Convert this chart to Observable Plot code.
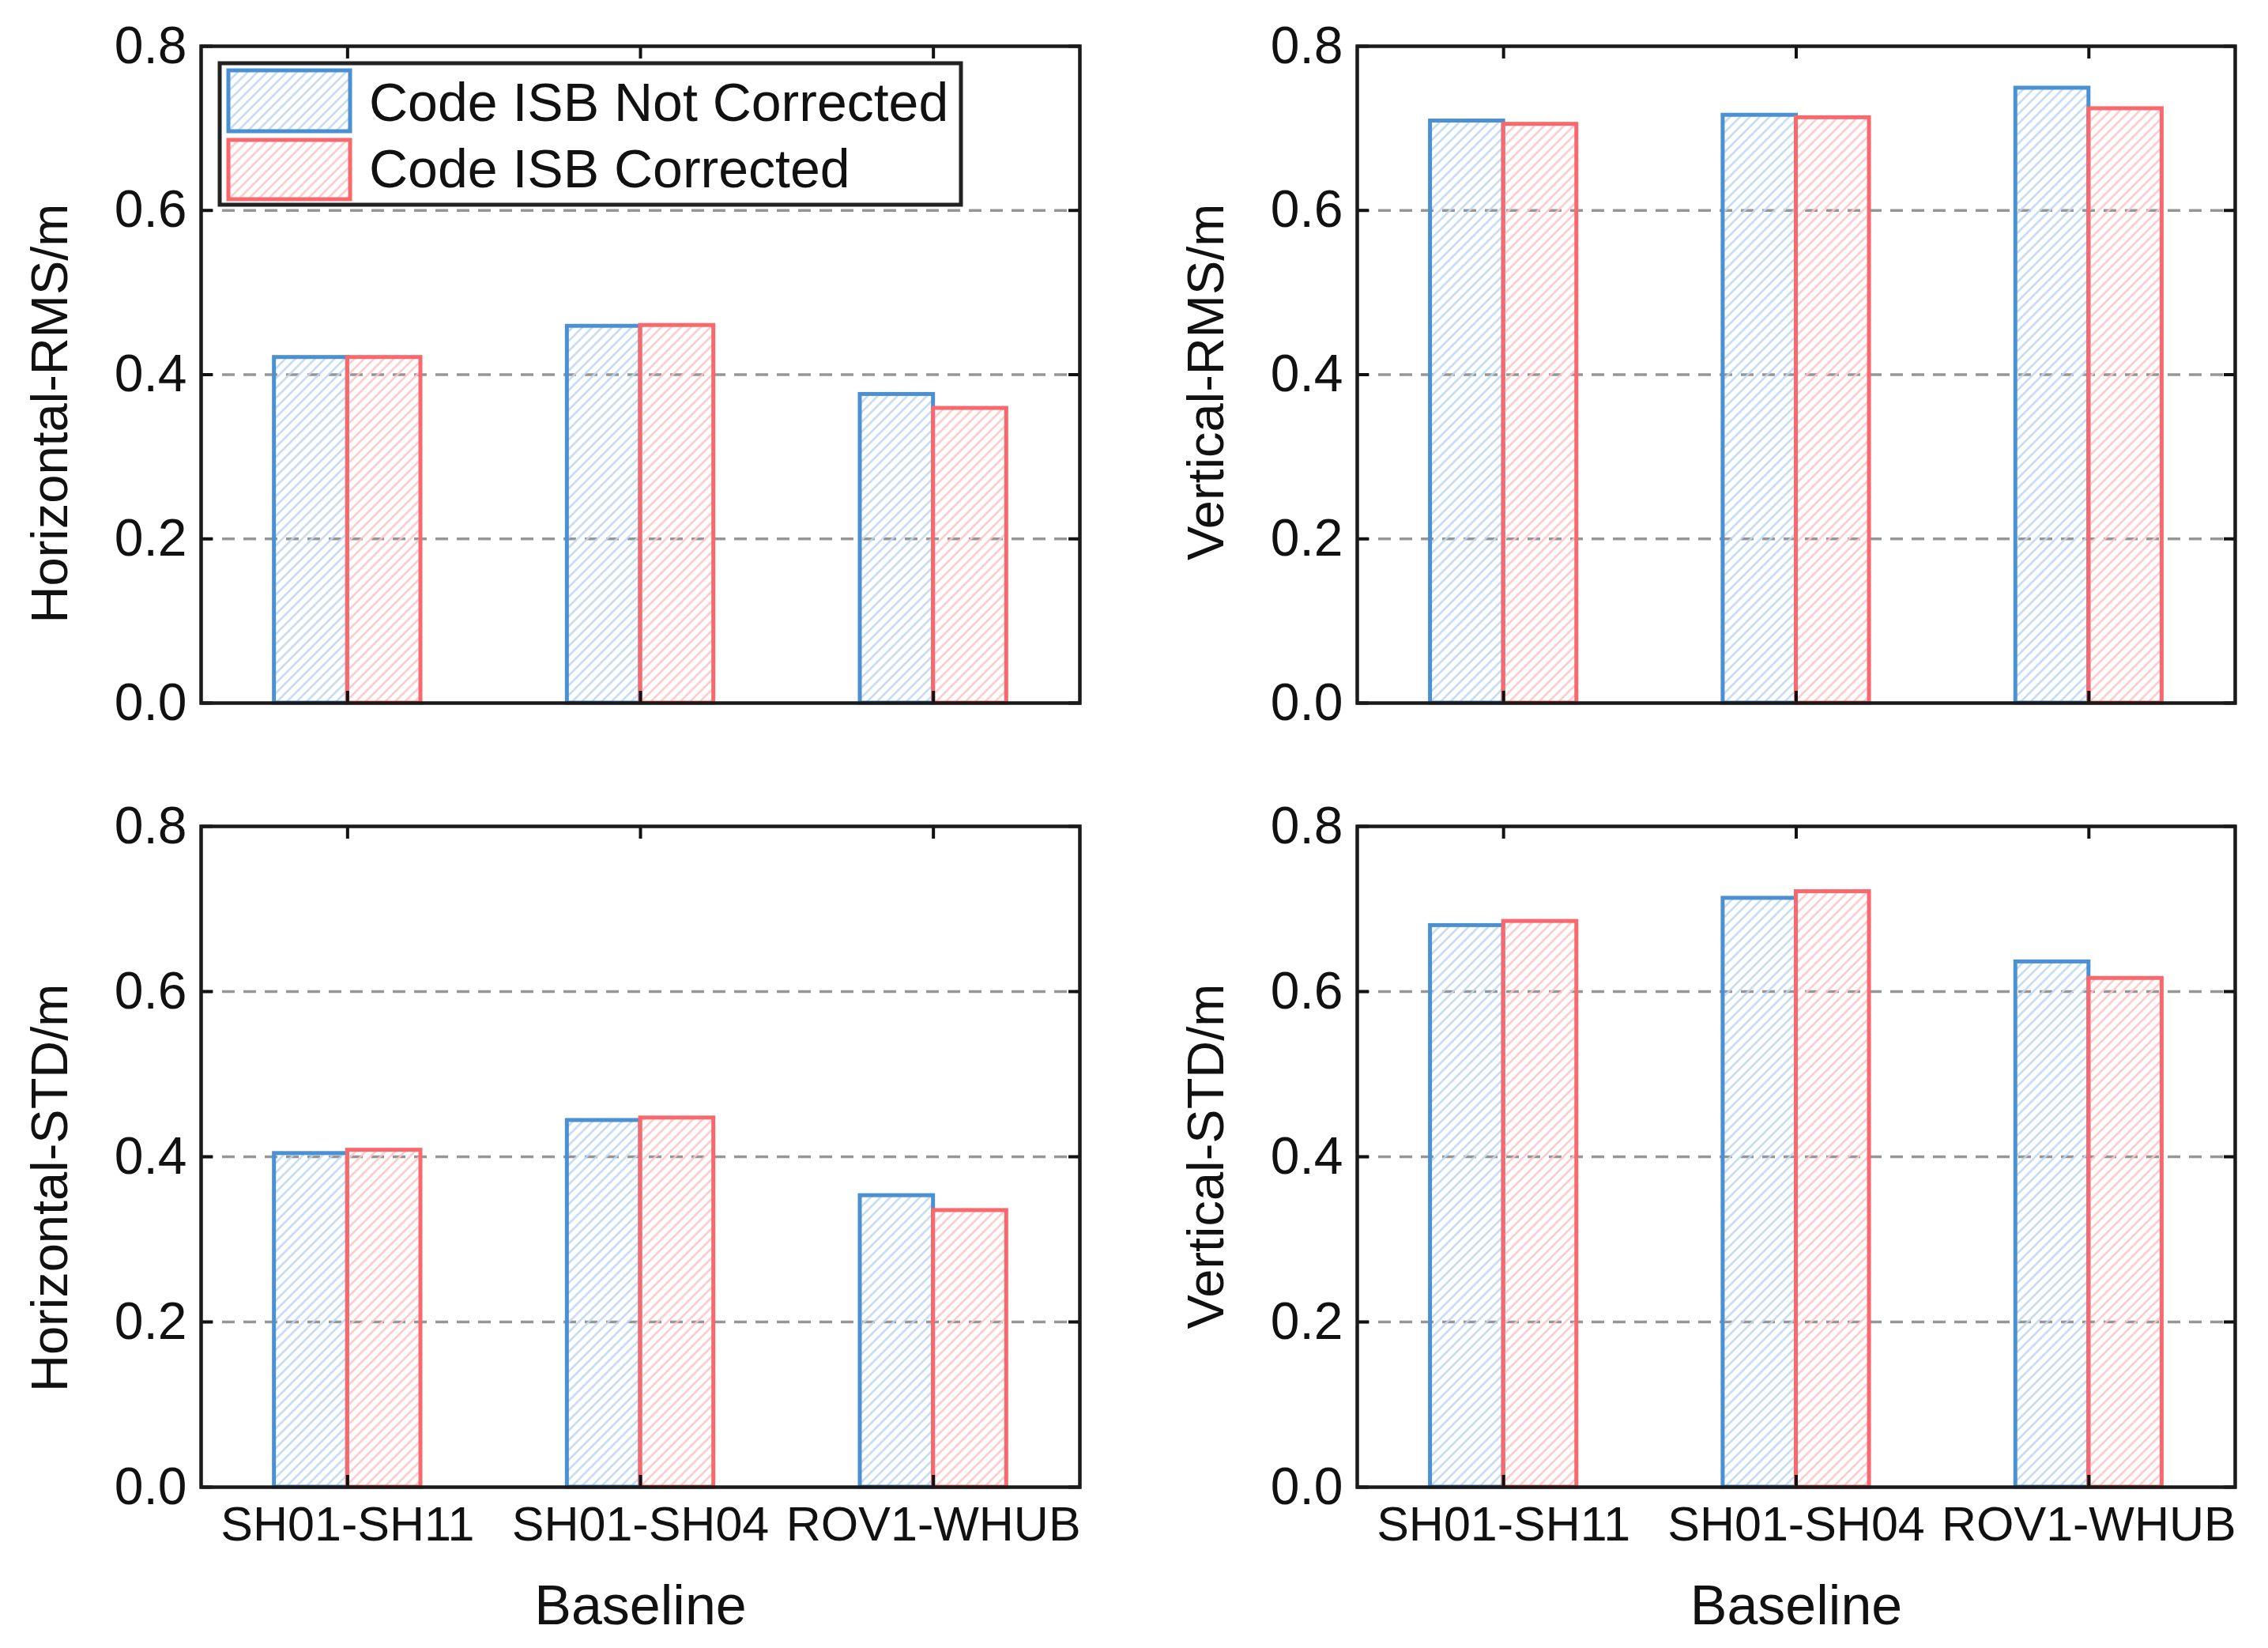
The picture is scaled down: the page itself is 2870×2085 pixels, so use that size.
<!DOCTYPE html>
<html>
<head>
<meta charset="utf-8">
<script src="https://cdn.jsdelivr.net/npm/d3@7"></script>
<script src="https://cdn.jsdelivr.net/npm/@observablehq/plot@0.6"></script>
<style>
html, body { margin: 0; padding: 0; background: #fff; }
#page { position: relative; width: 2870px; height: 2085px; overflow: hidden; font-family: "Liberation Sans", Arial, sans-serif; background: #fff; }
.panel { position: absolute; }
.panel svg { overflow: visible; }
#legend { position: absolute; left: 0; top: 0; }
</style>
</head>
<body>
<svg width="0" height="0" style="position:absolute">
  <defs>
    <pattern id="hatchBlue" patternUnits="userSpaceOnUse" width="8.8" height="8.8" patternTransform="rotate(45)">
      <line x1="4.4" y1="-1" x2="4.4" y2="9.8" stroke="#bcd7ef" stroke-width="2.3"/>
    </pattern>
    <pattern id="hatchRed" patternUnits="userSpaceOnUse" width="8.8" height="8.8" patternTransform="rotate(45)">
      <line x1="4.4" y1="-1" x2="4.4" y2="9.8" stroke="#fcc4c4" stroke-width="2.3"/>
    </pattern>
  </defs>
</svg>
<div id="page"></div>
<script>
// ---------------- data ----------------
const baselines = ["SH01-SH11", "SH01-SH04", "ROV1-WHUB"];
const seriesNames = ["Code ISB Not Corrected", "Code ISB Corrected"];
const horizontalRMS_notCorrected = [0.421, 0.459, 0.376];
const horizontalRMS_corrected    = [0.421, 0.460, 0.359];
const verticalRMS_notCorrected   = [0.709, 0.716, 0.749];
const verticalRMS_corrected      = [0.705, 0.713, 0.724];
const horizontalSTD_notCorrected = [0.404, 0.444, 0.353];
const horizontalSTD_corrected    = [0.408, 0.447, 0.335];
const verticalSTD_notCorrected   = [0.680, 0.713, 0.636];
const verticalSTD_corrected      = [0.685, 0.721, 0.616];
const yTickValues = [0, 0.2, 0.4, 0.6, 0.8];
const gridValues = [0.2, 0.4, 0.6];
const xLabel = "Baseline";

// ---------------- style ----------------
const BLUE = "#4a90d2";
const RED = "#f8686c";
const FONT = "'Liberation Sans', Arial, sans-serif";
const groupPos = baselines.map((_, i) => i + 1);

function rowsFor(a, b) {
  const rows = [];
  baselines.forEach((bl, i) => {
    rows.push({baseline: bl, pos: i + 1, series: seriesNames[0], value: a[i]});
    rows.push({baseline: bl, pos: i + 1, series: seriesNames[1], value: b[i]});
  });
  return rows;
}

function panel({title, a, b, left, top, width, height, ml, mr, mt, mb, showX}) {
  const rows = rowsFor(a, b);
  const half = 0.25; // bar width as a fraction of the group spacing
  const marks = [
    Plot.gridY(gridValues, {stroke: "#969696", strokeOpacity: 1, strokeWidth: 3.6, strokeDasharray: "16,11"}),
    Plot.rect(rows.filter(d => d.series === seriesNames[0]), {
      x1: d => d.pos - half, x2: d => d.pos, y1: 0, y2: "value",
      fill: "url(#hatchBlue)", stroke: BLUE, strokeWidth: 5
    }),
    Plot.rect(rows.filter(d => d.series === seriesNames[1]), {
      x1: d => d.pos, x2: d => d.pos + half, y1: 0, y2: "value",
      fill: "url(#hatchRed)", stroke: RED, strokeWidth: 5
    }),
    Plot.axisY(yTickValues, {anchor: "left", tickFormat: d3.format(".1f"), tickSize: -15, tickPadding: 33,
      fontSize: 66, strokeWidth: 4, label: null, fill: "#111", stroke: "#111"}),
    Plot.axisY(yTickValues, {anchor: "right", tickFormat: () => "", tickSize: -15, strokeWidth: 4, label: null, stroke: "#111"}),
    Plot.axisX(groupPos, {anchor: "top", tickFormat: () => "", tickSize: -15, strokeWidth: 4, label: null, stroke: "#111"}),
    Plot.axisX(groupPos, {anchor: "bottom", tickSize: -15, strokeWidth: 4, label: null, stroke: "#111", fill: "#111",
      tickFormat: showX ? (d => baselines[d - 1]) : () => "", tickPadding: 39, fontSize: 61}),
    Plot.frame({stroke: "#1a1a1a", strokeWidth: 4.5}),
    Plot.text([title], {frameAnchor: "top-left", dx: -190, dy: 199, rotate: -90, textAnchor: "end",
      lineAnchor: "middle", fontSize: 65, fill: "#111"})
  ];
  if (showX) {
    marks.push(Plot.text([xLabel], {frameAnchor: "bottom", dy: 151, lineAnchor: "middle", fontSize: 70, fill: "#111"}));
  }
  const chart = Plot.plot({
    width, height,
    marginLeft: ml, marginRight: mr, marginTop: mt, marginBottom: mb,
    x: {type: "linear", domain: [0.5, 3.5]},
    y: {type: "linear", domain: [0, 0.8]},
    style: {fontFamily: FONT, background: "transparent", overflow: "visible", color: "#111"},
    marks
  });
  const div = document.createElement("div");
  div.className = "panel";
  div.style.left = left + "px";
  div.style.top = top + "px";
  div.appendChild(chart);
  document.getElementById("page").appendChild(div);
}

panel({title: "Horizontal-RMS/m", a: horizontalRMS_notCorrected, b: horizontalRMS_corrected,
  left: 0, top: 0, width: 1435, height: 980, ml: 254, mr: 69, mt: 58, mb: 91, showX: false});
panel({title: "Vertical-RMS/m", a: verticalRMS_notCorrected, b: verticalRMS_corrected,
  left: 1435, top: 0, width: 1435, height: 980, ml: 282, mr: 42, mt: 58, mb: 91, showX: false});
panel({title: "Horizontal-STD/m", a: horizontalSTD_notCorrected, b: horizontalSTD_corrected,
  left: 0, top: 980, width: 1435, height: 1105, ml: 254, mr: 69, mt: 65, mb: 204, showX: true});
panel({title: "Vertical-STD/m", a: verticalSTD_notCorrected, b: verticalSTD_corrected,
  left: 1435, top: 980, width: 1435, height: 1105, ml: 282, mr: 42, mt: 65, mb: 204, showX: true});

// ---------------- legend (top-left panel) ----------------
const NS = "http://www.w3.org/2000/svg";
const lg = document.createElementNS(NS, "svg");
lg.setAttribute("id", "legend");
lg.setAttribute("width", 1435);
lg.setAttribute("height", 300);
function el(tag, attrs, text) {
  const e = document.createElementNS(NS, tag);
  for (const k in attrs) e.setAttribute(k, attrs[k]);
  if (text) e.textContent = text;
  lg.appendChild(e);
  return e;
}
el("rect", {x: 278, y: 80, width: 938, height: 179, fill: "#fff", stroke: "#222", "stroke-width": 5});
const swatchFills = ["url(#hatchBlue)", "url(#hatchRed)"];
const swatchStrokes = [BLUE, RED];
const rowsY = [[89, 77], [177, 75]];
const textY = [129, 213];
seriesNames.forEach((name, i) => {
  el("rect", {x: 289, y: rowsY[i][0], width: 154, height: rowsY[i][1], fill: swatchFills[i], stroke: swatchStrokes[i], "stroke-width": 5});
  el("text", {x: 467, y: textY[i], "dominant-baseline": "central", "font-size": 68, "font-family": FONT, fill: "#111"}, name);
});
document.getElementById("page").appendChild(lg);
</script>
</body>
</html>
